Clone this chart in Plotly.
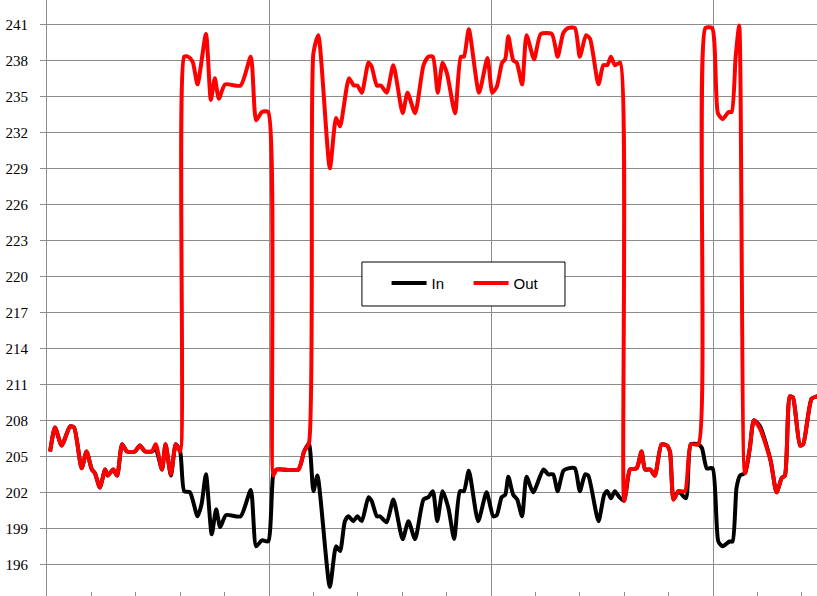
import plotly.graph_objects as go

# Sample position (index units; vertical gridlines every 50 samples) and values
in_t = [0.7, 1.8, 3.3, 5.2, 6.1, 7.8, 8.9, 10.1, 10.8, 11.9, 13.1, 13.7, 14.9, 15.8, 16.9, 18.0, 19.8, 20.9,
        22.1, 23.6, 24.5, 25.9, 26.7, 27.9, 29.0, 30.0, 30.9, 32.2, 33.9, 34.8, 35.8, 37.1, 38.1, 39.0, 40.3,
        43.6, 45.9, 47.1, 48.4, 49.8, 51.0, 51.7, 56.6, 57.9, 59.0, 60.0, 60.9, 63.7, 65.1, 66.0, 67.1, 67.9,
        69.0, 69.9, 70.9, 72.4, 73.1, 74.3, 75.0, 76.5, 78.0, 80.1, 81.4, 82.9, 84.8, 85.9, 86.9, 87.9, 89.1,
        90.4, 91.7, 93.0, 93.9, 95.0, 97.1, 99.0, 100.5, 101.3, 102.4, 103.2, 103.9, 105.0, 105.9, 107.0,
        108.0, 109.5, 111.8, 112.9, 114.0, 115.0, 116.3, 117.4, 118.9, 120.0, 121.2, 121.9, 124.2, 125.5,
        126.2, 127.0, 127.9, 128.9, 130.0, 131.3, 132.8, 133.9, 134.7, 135.9, 136.9, 138.4, 139.6, 140.3,
        141.1, 142.2, 143.9, 145.0, 146.7, 147.5, 148.6, 149.9, 151.2, 152.2, 153.7, 154.4, 155.3, 156.1,
        157.2, 158.3, 159.2, 160.6, 163.0, 164.3, 165.5, 166.2, 167.3, 168.0, 169.6, 170.3, 172.2, 173.4, 174.5]
in_v = [205.4, 207.4, 205.9, 207.5, 207.4, 204.0, 205.4, 203.9, 203.6, 202.4, 203.9, 203.4, 203.9, 203.4, 206.0,
        205.4, 205.4, 205.9, 205.4, 205.4, 205.6, 203.9, 206.0, 203.4, 206.0, 205.4, 202.1, 202.0, 200.0, 201.0,
        203.5, 198.5, 200.6, 199.1, 200.1, 200.0, 202.2, 197.5, 198.0, 197.9, 203.6, 203.9, 203.9, 205.4, 206.1,
        202.1, 203.4, 194.1, 197.5, 197.1, 199.6, 200.0, 199.6, 200.0, 199.6, 201.6, 201.3, 200.0, 200.0, 199.5,
        201.4, 198.1, 199.6, 198.1, 201.4, 201.6, 202.1, 199.6, 202.1, 200.7, 198.1, 202.1, 202.1, 203.8, 199.6,
        202.0, 200.0, 200.1, 201.6, 201.8, 203.3, 201.8, 201.4, 200.0, 203.3, 202.0, 203.9, 203.5, 203.5, 202.1,
        203.8, 204.0, 204.0, 202.1, 203.5, 203.4, 199.6, 201.8, 202.1, 201.5, 202.1, 201.6, 201.3, 203.9, 204.0,
        205.4, 203.9, 203.9, 203.4, 206.0, 205.9, 205.4, 201.4, 202.1, 201.5, 206.0, 206.0, 205.7, 204.0, 204.0,
        197.9, 197.5, 197.9, 197.9, 202.4, 203.4, 203.6, 205.7, 208.0, 207.5, 204.6, 202.0, 203.2, 203.4, 210.0,
        209.9, 205.9, 206.0, 209.8, 210.0, 210.1]

out_t = [0.7, 1.8, 3.3, 5.2, 6.1, 7.8, 8.9, 10.1, 10.8, 11.9, 13.1, 13.7, 14.9, 15.8, 16.9, 18.0, 19.8, 20.9,
         22.1, 23.6, 24.5, 25.9, 26.7, 27.9, 29.0, 30.0, 30.9, 31.8, 32.8, 33.9, 35.8, 36.9, 37.8, 38.7, 40.1,
         43.6, 45.9, 47.1, 48.4, 49.8, 51.0, 51.7, 56.6, 57.9, 59.0, 60.0, 61.1, 63.7, 65.1, 66.0, 68.0, 69.1,
         69.9, 70.9, 72.4, 73.1, 74.3, 75.2, 76.5, 78.0, 80.1, 81.2, 82.9, 84.8, 85.9, 86.9, 88.0, 89.1, 90.1,
         91.9, 93.2, 93.9, 95.0, 97.3, 99.2, 100.3, 101.3, 102.5, 103.2, 103.9, 105.0, 105.8, 107.0, 108.0,
         109.7, 111.2, 113.7, 115.0, 116.3, 117.4, 118.9, 120.0, 121.4, 122.3, 124.2, 125.3, 126.2, 127.0,
         127.9, 129.1, 130.0, 131.3, 132.8, 133.9, 134.7, 135.9, 136.9, 138.4, 139.6, 140.3, 141.1, 142.2,
         143.7, 145.0, 146.7, 148.3, 149.8, 151.1, 152.2, 153.5, 154.2, 155.1, 155.9, 157.2, 158.3, 159.2,
         160.6, 163.0, 164.3, 165.5, 166.2, 167.3, 168.0, 169.6, 170.3, 172.2, 173.4, 174.5]
out_v = [205.4, 207.4, 205.9, 207.5, 207.4, 204.0, 205.4, 203.9, 203.6, 202.4, 203.9, 203.4, 203.9, 203.4, 206.0,
         205.4, 205.4, 205.9, 205.4, 205.4, 206.0, 203.9, 206.0, 203.5, 206.0, 205.4, 238.3, 238.3, 237.9, 236.0,
         240.2, 234.7, 236.5, 234.8, 236.0, 235.9, 238.3, 233.0, 233.7, 233.7, 203.4, 203.9, 203.9, 205.4, 206.1,
         238.6, 240.1, 229.0, 233.2, 232.5, 236.5, 235.9, 235.9, 235.3, 237.8, 237.5, 235.9, 235.9, 235.3, 237.6,
         233.6, 235.3, 233.6, 237.6, 238.3, 238.3, 235.3, 237.8, 236.9, 233.6, 238.3, 238.3, 240.6, 235.3, 238.2,
         235.3, 235.8, 237.8, 238.1, 240.0, 238.0, 237.8, 236.0, 240.1, 238.1, 240.2, 240.2, 238.3, 240.3, 240.7,
         240.7, 238.3, 240.1, 239.8, 236.0, 237.6, 237.6, 238.3, 237.6, 237.8, 201.3, 203.9, 204.0, 205.4, 203.9,
         203.9, 203.4, 206.0, 205.9, 205.4, 201.4, 202.1, 202.1, 206.0, 206.0, 240.7, 240.7, 233.6, 233.1, 233.7,
         233.7, 238.3, 240.9, 203.6, 205.7, 208.0, 207.3, 204.6, 202.0, 203.2, 203.4, 210.0, 209.9, 205.9, 206.0,
         209.8, 210.0, 210.1]

y_ticks = list(range(196, 242, 3))

SMOOTH = 0.6
fig = go.Figure()
fig.add_trace(go.Scatter(x=in_t, y=in_v, name="In", mode="lines",
                         line=dict(color="#000000", width=4, shape="spline", smoothing=SMOOTH)))
fig.add_trace(go.Scatter(x=out_t, y=out_v, name="Out", mode="lines",
                         line=dict(color="#FF0000", width=4, shape="spline", smoothing=SMOOTH)))

grid = "#8c8c8c"
serif = "Liberation Serif, Times New Roman, serif"
fig.update_layout(
    width=817, height=596,
    margin=dict(l=47, r=0, t=0, b=0, autoexpand=False),
    paper_bgcolor="white", plot_bgcolor="white",
    showlegend=True,
    legend=dict(orientation="h", x=0.441, y=0.5247, xanchor="left", yanchor="middle",
                bgcolor="rgba(0,0,0,0)", borderwidth=0, itemwidth=35,
                font=dict(family="Liberation Sans, Arial, sans-serif", size=15, color="black"),
                entrywidth=32, entrywidthmode="pixels"),
    xaxis=dict(range=[0, 173.42], tick0=0, dtick=50, showgrid=True, gridcolor=grid, gridwidth=1,
               showticklabels=False, ticks="", zeroline=False, showline=False,
               minor=dict(dtick=10, tick0=0, ticks="inside", ticklen=4, tickcolor=grid, showgrid=False)),
    yaxis=dict(range=[193.36, 243.03], tickvals=y_ticks, showgrid=True, gridcolor=grid, gridwidth=1,
               zeroline=False, showline=True, linecolor=grid, linewidth=1,
               ticks="outside", ticklen=6, tickcolor=grid, ticklabelstandoff=9,
               tickfont=dict(family=serif, size=15, color="black")),
    shapes=[dict(type="rect", xref="paper", yref="paper", x0=0.409, x1=0.6727, y0=0.4866, y1=0.5604,
                 fillcolor="white", line=dict(color="black", width=1), layer="above")],
    annotations=[dict(text="193", xref="paper", yref="paper", x=0, y=0, xanchor="right", yanchor="middle",
                      xshift=-17, yshift=-5, showarrow=False,
                      font=dict(family=serif, size=15, color="black"))],
)

fig.write_html("out.html", config={"displayModeBar": False, "staticPlot": True},
               post_script="document.body.style.margin='0px';document.body.style.overflow='hidden';")
